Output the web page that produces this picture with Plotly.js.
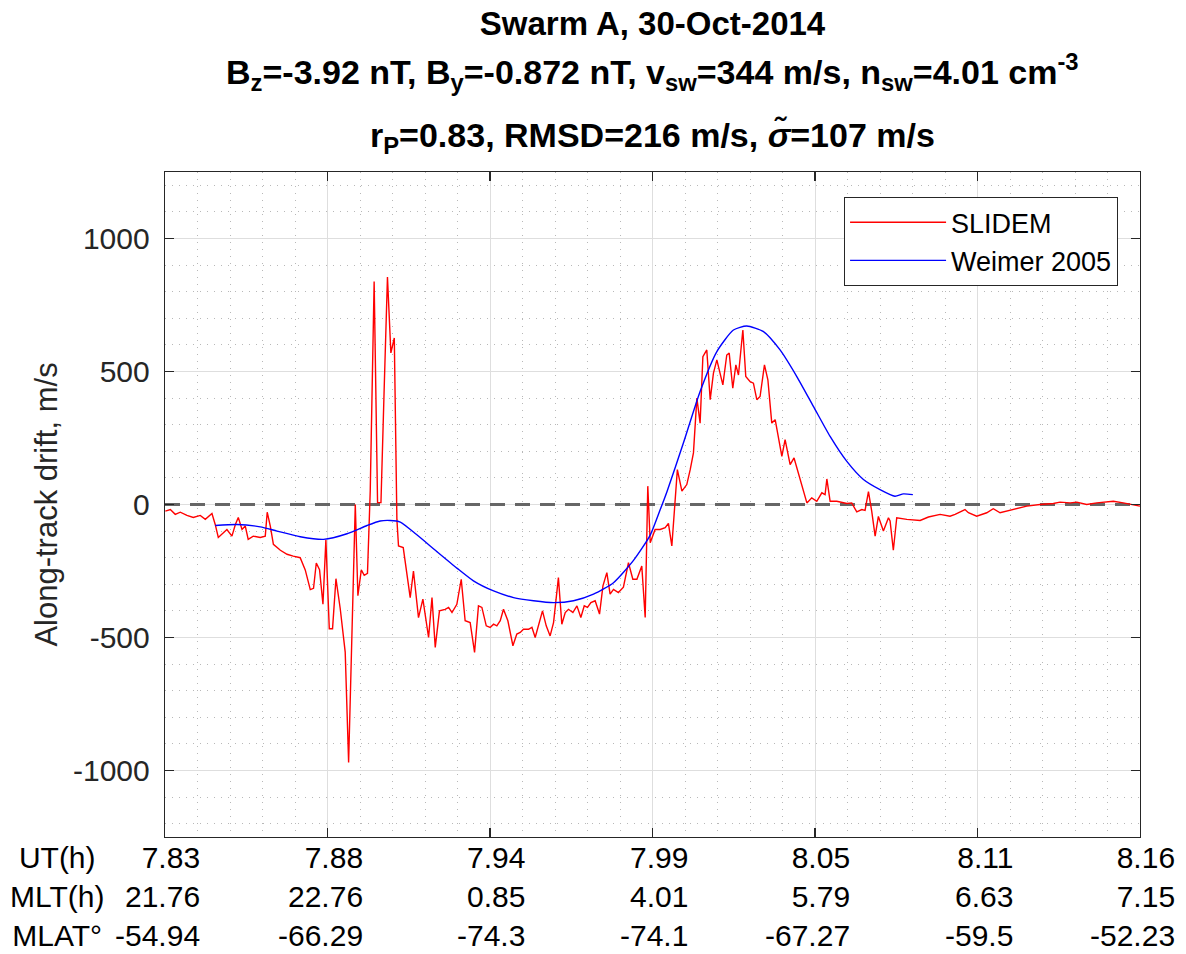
<!DOCTYPE html>
<html>
<head>
<meta charset="utf-8">
<script src="https://cdn.plot.ly/plotly-3.0.1.min.js"></script>
<style>html,body{margin:0;padding:0;background:#fff;}#chart{width:1186px;height:954px;}</style>
</head>
<body>
<div id="chart"></div>
<script>
// Position along the track in tick-interval units (0 = first tick, 6 = last tick)
const slidemPos = [0.002,0.033,0.063,0.094,0.135,0.174,0.217,0.248,0.289,0.309,0.328,0.351,0.381,0.412,0.433,0.451,0.474,0.494,0.512,0.543,0.586,0.617,0.629,0.648,0.667,0.710,0.751,0.789,0.832,0.863,0.894,0.914,0.931,0.951,0.972,0.990,1.011,1.031,1.052,1.078,1.109,1.130,1.150,1.171,1.187,1.208,1.226,1.246,1.263,1.287,1.308,1.329,1.349,1.369,1.390,1.411,1.427,1.437,1.466,1.509,1.529,1.560,1.587,1.622,1.643,1.663,1.689,1.724,1.745,1.766,1.796,1.823,1.847,1.878,1.905,1.929,1.950,1.977,2.001,2.022,2.042,2.063,2.083,2.110,2.141,2.165,2.186,2.206,2.237,2.258,2.278,2.298,2.323,2.346,2.370,2.391,2.421,2.442,2.463,2.483,2.510,2.535,2.559,2.580,2.600,2.621,2.647,2.674,2.695,2.719,2.739,2.760,2.790,2.821,2.852,2.879,2.904,2.934,2.955,2.971,2.986,3.016,3.047,3.078,3.098,3.119,3.153,3.181,3.211,3.232,3.252,3.273,3.293,3.310,3.334,3.355,3.375,3.396,3.433,3.457,3.472,3.494,3.513,3.529,3.556,3.574,3.601,3.621,3.642,3.662,3.689,3.710,3.734,3.755,3.796,3.816,3.847,3.871,3.908,3.950,3.980,4.011,4.042,4.062,4.073,4.093,4.134,4.196,4.226,4.257,4.288,4.308,4.329,4.349,4.370,4.390,4.421,4.452,4.462,4.482,4.503,4.565,4.647,4.698,4.770,4.831,4.862,4.923,4.944,4.995,5.057,5.097,5.139,5.221,5.303,5.385,5.467,5.508,5.570,5.611,5.672,5.734,5.795,5.836,5.897,5.959,6.000];
const slidemDrift = [-25,-19,-37,-29,-41,-49,-41,-56,-34,-75,-124,-112,-94,-119,-75,-49,-94,-81,-131,-119,-124,-119,-29,-81,-150,-172,-187,-194,-200,-246,-320,-315,-220,-245,-375,-133,-467,-467,-279,-390,-555,-970,-517,0,-343,-246,-266,-259,52,838,7,7,440,855,570,626,-56,-156,-162,-350,-250,-425,-356,-500,-350,-537,-400,-394,-387,-406,-375,-281,-437,-444,-556,-381,-387,-456,-462,-450,-456,-437,-394,-437,-531,-487,-481,-469,-469,-462,-500,-456,-400,-456,-494,-444,-275,-450,-406,-394,-406,-381,-425,-381,-387,-369,-362,-412,-306,-256,-337,-319,-331,-311,-219,-281,-281,-231,-425,69,-144,-94,-94,-87,-71,-156,131,50,75,131,194,400,306,556,581,394,494,544,450,562,569,437,525,487,656,481,462,456,394,406,525,469,306,319,181,244,150,175,94,6,25,12,44,37,96,12,12,4,6,-28,-19,-22,48,-25,-119,-45,-100,-50,-62,-172,-50,-56,-60,-47,-37,-44,-37,-19,-31,-44,-31,-16,-31,-19,-6,0,4,9,6,9,0,6,9,12,6,0,-6];

const weimerPos = [0.309,0.443,0.586,0.689,0.832,0.976,1.120,1.243,1.324,1.386,1.448,1.546,1.675,1.798,1.898,2.022,2.145,2.268,2.391,2.514,2.637,2.760,2.883,2.986,3.047,3.090,3.190,3.293,3.396,3.498,3.580,3.683,3.785,3.888,3.990,4.093,4.196,4.298,4.400,4.492,4.544,4.602];
const weimerDrift = [-79,-75,-84,-100,-121,-131,-110,-79,-62,-60,-66,-112,-178,-240,-287,-325,-350,-362,-369,-362,-337,-294,-210,-115,-20,50,231,425,575,656,671,650,581,481,369,256,162,94,56,31,40,37];

const tickPos = [0,1,2,3,4,5,6];
const utLabels = ["7.83","7.88","7.94","7.99","8.05","8.11","8.16"];
const mltLabels = ["21.76","22.76","0.85","4.01","5.79","6.63","7.15"];
const mlatLabels = ["-54.94","-66.29","-74.3","-74.1","-67.27","-59.5","-52.23"];
const rowNames = ["UT(h)","MLT(h)","MLAT°"];
const yTicks = [-1000,-500,0,500,1000];
const yTickText = ["-1000","-500","0","500","1000"];

const FONT = "Liberation Sans, Arial, Helvetica, sans-serif";
const INK = "#262626";

const traces = [
  {x:[tickPos[0], tickPos[tickPos.length-1]], y:[0,0], mode:"lines", showlegend:false, hoverinfo:"skip",
   line:{color:"#666666", width:3, dash:"15px,10px"}},
  {x:slidemPos, y:slidemDrift, mode:"lines", name:"SLIDEM", line:{color:"#ff0000", width:1.4}},
  {x:weimerPos, y:weimerDrift, mode:"lines", name:"Weimer 2005", line:{color:"#0000ff", width:1.4, shape:"spline", smoothing:0.6}}
];

const annotations = [];
tickPos.forEach((p,i)=>{
  annotations.push({xref:"x", yref:"paper", x:p, y:-0.089, xanchor:"right", yanchor:"middle", xshift:37,
    align:"right", showarrow:false, text: utLabels[i]+"<br>"+mltLabels[i]+"<br>"+mlatLabels[i],
    font:{family:FONT, size:30, color:"#000"}});
});
annotations.push({xref:"paper", yref:"paper", x:-0.111, y:-0.089, xanchor:"center", yanchor:"middle",
  align:"center", showarrow:false, text: rowNames.join("<br>"), font:{family:FONT, size:30, color:"#000"}});
annotations.push({xref:"paper", yref:"paper", x:0.5, y:1.1504, xanchor:"center", yanchor:"middle", showarrow:false,
  text:"<b>B<sub>z</sub>=-3.92 nT, B<sub>y</sub>=-0.872 nT, v<sub>sw</sub>=344 m/s, n<sub>sw</sub>=4.01 cm<sup>-3</sup></b>",
  font:{family:FONT, size:34, color:"#000"}});
annotations.push({xref:"paper", yref:"paper", x:0.5, y:1.0526, xanchor:"center", yanchor:"middle", showarrow:false,
  text:"<b>r<sub>P</sub>=0.83, RMSD=216 m/s, <i>σ̃</i>=107 m/s</b>",
  font:{family:FONT, size:34, color:"#000"}});

const layout = {
  width:1186, height:954,
  margin:{l:164.7, r:46, t:172, b:117},
  paper_bgcolor:"#fff", plot_bgcolor:"#fff",
  font:{family:FONT, color:"#000"},
  title:{text:"<b>Swarm A, 30-Oct-2014</b>", xref:"paper", x:0.5, xanchor:"center", yref:"container", y:0.975, yanchor:"middle",
    font:{family:FONT, size:33, color:"#000"}},
  xaxis:{range:[0,6], tickvals:tickPos, showticklabels:false, ticks:"inside", ticklen:9, tickwidth:1.3, tickcolor:INK,
    showline:true, linecolor:INK, linewidth:1.3, mirror:"ticks", zeroline:false,
    showgrid:true, gridcolor:"#dedede", gridwidth:1,
    minor:{tickmode:"linear", tick0:0, dtick:0.2, showgrid:true, gridcolor:"#b8b8b8", griddash:"1px,6px", gridwidth:1}},
  yaxis:{range:[-1250,1250], tickvals:yTicks, ticktext:yTickText, ticks:"inside", ticklen:9, tickwidth:1.3, tickcolor:INK,
    showline:true, linecolor:INK, linewidth:1.3, mirror:"ticks", zeroline:false,
    showgrid:true, gridcolor:"#dedede", gridwidth:1, ticklabelstandoff:8,
    tickfont:{family:FONT, size:30, color:INK},
    minor:{tickmode:"linear", tick0:0, dtick:100, showgrid:true, gridcolor:"#b8b8b8", griddash:"1px,6px", gridwidth:1},
    title:{text:"Along-track drift, m/s", font:{family:FONT, size:31, color:INK}, standoff:6}},
  legend:{x:0.9775, xanchor:"right", y:0.962, yanchor:"top", bgcolor:"#fff", bordercolor:INK, borderwidth:1,
    font:{family:FONT, size:27, color:"#000"}, itemwidth:96, tracegroupgap:0},
  annotations:annotations,
  showlegend:true
};

Plotly.newPlot("chart", traces, layout, {displayModeBar:false, staticPlot:true});
</script>
</body>
</html>
